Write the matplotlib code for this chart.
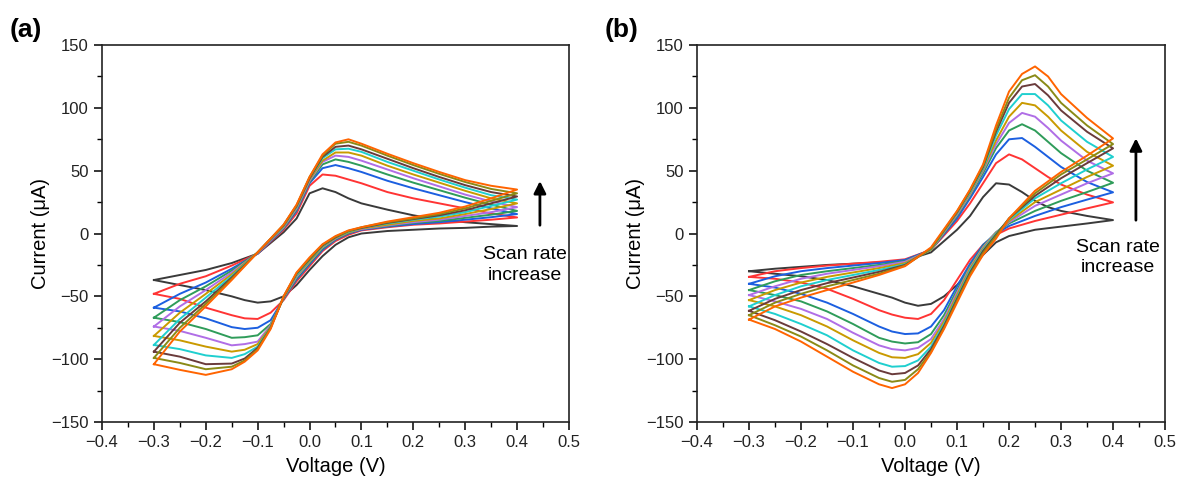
import matplotlib.pyplot as plt
from matplotlib.ticker import MultipleLocator

plt.rcParams['font.family'] = ['Liberation Sans', 'DejaVu Sans']

# line colours, slowest scan rate first
colors = ['#3a3a3a', '#ff3434', '#1c5fe0', '#2f9c5a', '#b06ee6',
          '#c99a00', '#1fcfcf', '#6a3b3b', '#8a8a16', '#ff6400']

# ---- panel (a) ----
va_fwd = [-0.3, -0.25, -0.2, -0.15, -0.1, -0.05, -0.025, 0.0, 0.025, 0.05,
          0.075, 0.1, 0.15, 0.2, 0.25, 0.3, 0.35, 0.4]
ia_fwd = [
    [-37, -33, -29, -23.5, -16, 1, 12, 32, 36, 33, 28, 24, 19, 14.5, 11, 9, 7.5, 6],
    [-48, -40, -34, -25.5, -16, 3, 16, 38, 47, 46, 43, 40, 33, 28, 24, 20, 16, 12.8],
    [-59, -48, -39, -28, -16, 4, 18, 40, 52, 54.5, 52, 49, 42, 36, 30.5, 25, 20, 15.5],
    [-67, -53, -42, -29.5, -15.5, 4.5, 19, 41, 55, 59, 57, 54, 47, 40.5, 34.5, 28.5, 23, 18],
    [-74, -58, -45, -31, -15.5, 5, 20, 42, 57, 62, 61, 58, 51, 44, 37.5, 31, 25.5, 21],
    [-81.5, -63, -48, -32.5, -15, 5.5, 21, 43, 58, 64.5, 64.5, 62, 54, 47, 40.5, 34, 28, 24],
    [-88.7, -68, -51, -34, -15, 6, 21.5, 44, 60, 67, 67.5, 65, 57, 50, 43, 36.5, 30.5, 27],
    [-94, -71, -54, -35, -15, 6.5, 22, 44, 61, 69, 70, 67, 59.5, 52, 45, 38.5, 33, 29.5],
    [-99, -75, -56, -36, -15, 7, 22.5, 45, 62, 71.5, 73, 70, 62, 54.5, 47.5, 41, 35.5, 32],
    [-104, -78, -58, -37, -15, 7, 23, 45, 63, 72.5, 75, 71.5, 63.5, 56, 49, 42.5, 38, 35],
]
va_rev = [0.35, 0.3, 0.25, 0.2, 0.15, 0.1, 0.075, 0.05, 0.025, 0.0, -0.025,
          -0.05, -0.075, -0.1, -0.125, -0.15, -0.2, -0.25, -0.3]
ia_rev = [
    [5.5, 4.5, 4, 3, 2, 0, -3, -9, -18, -29, -41, -50, -54, -55, -53, -50, -45, -41, -37],
    [11, 9.5, 8, 7, 5, 2.5, -1, -6, -14, -26, -38, -53, -63, -68, -67.5, -65, -59, -52, -48],
    [13, 11, 9, 7.5, 5.5, 3, 0, -5, -13, -24.5, -36.5, -52, -69, -75, -76, -74.5, -67.5, -62, -59],
    [15, 12.5, 10, 8.5, 6, 3.5, 0.5, -4.5, -12, -23.5, -35.5, -51.5, -72, -81, -82.5, -83, -76, -70.5, -67],
    [17, 14, 11, 9, 6.5, 3.5, 1, -4, -11, -22.5, -34.5, -51, -73, -86, -88, -89, -83, -77.5, -74],
    [19.5, 15.5, 12, 10, 7, 4, 1, -3.5, -10.5, -22, -33.5, -51, -74, -88, -92.5, -94, -90, -85, -81.5],
    [22, 17, 13.5, 11, 8, 4.5, 1.5, -3, -10, -21, -33, -50.5, -74.5, -90, -96, -99, -97, -92, -88.7],
    [24, 18.5, 14.5, 11.5, 8.5, 4.5, 2, -3, -9.5, -20.5, -32, -50.5, -75, -91, -99.5, -103.5, -104, -98, -94],
    [26, 20, 15.5, 12, 9, 5, 2, -2.5, -9, -20, -31.5, -50, -75, -92, -101, -106, -108, -103, -99],
    [28, 21.5, 16.5, 13, 9.5, 5, 2.5, -2, -8.5, -19, -31, -50, -76, -93, -102, -108, -112.5, -108.5, -104],
]

# ---- panel (b) ----
vb_fwd = [-0.3, -0.25, -0.2, -0.15, -0.1, -0.05, 0.0, 0.05, 0.1, 0.125, 0.15,
          0.175, 0.2, 0.225, 0.25, 0.275, 0.3, 0.35, 0.4]
ib_fwd = [
    [-30, -28, -26.5, -25, -24, -23, -21.5, -15, 3, 14, 29, 40, 39, 33, 26, 21, 18, 14, 10.7],
    [-34.5, -30, -27.5, -25.5, -24, -22.5, -20.5, -13, 10, 24, 40, 56, 63, 59, 52, 45, 39, 31, 24.8],
    [-40, -34, -30, -27.5, -25.5, -23.5, -21, -13, 12, 28, 45, 63, 75, 76, 69, 61, 53, 41, 32.8],
    [-45, -38, -33, -30, -27.5, -25, -22, -13, 14, 30, 48, 68, 82, 87, 82, 73, 64, 50, 40.4],
    [-49, -42, -36, -32, -29, -26, -22.5, -13, 15, 31, 50, 71, 88, 96, 93, 84, 74, 58, 47.9],
    [-53, -45, -39, -34.5, -31, -27.5, -23.5, -13, 16, 32, 51, 74, 93, 104, 102, 93, 82, 65, 54],
    [-58, -49, -42, -37, -33, -29, -24.5, -12.5, 16.5, 33, 52, 78, 99, 111, 111, 102, 90, 73, 61],
    [-61.5, -52, -45, -39.5, -35, -30.5, -25, -12, 17, 34, 53, 81, 104, 117, 119, 110, 98, 81, 67.8],
    [-65, -55, -48, -42, -37, -32, -25.5, -12, 17.5, 34.5, 54, 83, 108, 122, 126, 117, 104, 86, 71.2],
    [-68.5, -58, -51, -45, -39, -33, -26, -11, 18, 35, 55, 86, 113, 127, 133, 125, 111, 92, 75.7],
]
vb_rev = [0.35, 0.3, 0.25, 0.2, 0.175, 0.15, 0.125, 0.1, 0.075, 0.05, 0.025,
          0.0, -0.025, -0.05, -0.1, -0.15, -0.2, -0.25, -0.3]
ib_rev = [
    [8, 5.5, 3, -2, -7, -17, -29, -41, -50, -56, -57.5, -55, -51, -48, -42, -37, -34, -32, -30],
    [20, 15, 10, 4, -1, -9, -21, -37, -53, -64, -68, -67, -64.5, -61, -52, -44, -39, -36, -34.5],
    [27, 21, 14, 6, 0, -9, -24, -42, -61, -74, -79.5, -80, -78, -74, -64, -55, -48, -43, -40],
    [33, 26, 18, 8, 1, -10, -26, -45, -65, -80, -86.5, -87.5, -86, -83, -72, -62, -54, -49, -45],
    [40, 31, 22, 9, 1, -11, -27, -47, -68, -84, -91, -93, -92, -89, -79, -68, -60, -54, -49],
    [45, 35, 25, 10, 0.5, -12, -28, -49, -70, -87, -96, -99, -98.5, -95, -85, -74, -65, -58, -53],
    [51, 40, 28, 11, 0, -13, -29.5, -51, -72, -90, -101, -105.5, -106, -103, -93, -81, -72, -64, -58],
    [56, 44, 30, 12, -1, -14, -31, -52, -73.5, -92, -105, -111, -112, -109, -99, -88, -78, -69, -61.5],
    [59, 47, 32, 12, -2, -15.5, -32.5, -53.5, -75, -94, -108, -116.5, -118, -115, -105, -93, -82, -73, -65],
    [62, 49, 34, 12, -4, -17, -34, -55, -76, -95, -111, -120, -123, -120, -110, -98, -86, -76, -68.5],
]

fig = plt.figure(figsize=(11.78, 4.82), dpi=100)
ax_a = fig.add_axes([0.0866, 0.1245, 0.3964, 0.782])
ax_b = fig.add_axes([0.5917, 0.1245, 0.3973, 0.782])

panels = [
    (ax_a, va_fwd, ia_fwd, va_rev, ia_rev, '(a)', 0.008, (0.444, 4.4, 44), (0.415, -25)),
    (ax_b, vb_fwd, ib_fwd, vb_rev, ib_rev, '(b)', 0.513, (0.444, 8.4, 78), (0.41, -19)),
]

for ax, vf, ifw, vr, irv, tag, tx, arr, txt in panels:
    for k in range(len(colors)):
        x = vf + vr
        y = ifw[k] + irv[k]
        ax.plot(x, y, color=colors[k], lw=1.4)

    ax.set_xlim(-0.4, 0.5)
    ax.set_ylim(-150, 150)
    ax.xaxis.set_major_locator(MultipleLocator(0.1))
    ax.xaxis.set_minor_locator(MultipleLocator(0.05))
    ax.yaxis.set_major_locator(MultipleLocator(50))
    ax.yaxis.set_minor_locator(MultipleLocator(25))
    ax.tick_params(which='major', direction='out', length=6, width=1.1,
                   labelsize=12, labelcolor='#222222')
    ax.tick_params(which='minor', direction='out', length=3.5, width=1.0)
    ax.xaxis.set_major_formatter(plt.FuncFormatter(
        lambda v, p: ('%.1f' % v).replace('-', '\u2212')))
    for s in ax.spines.values():
        s.set_linewidth(1.2)
        s.set_color('#222222')
    ax.set_xlabel('Voltage (V)', fontsize=14.5, labelpad=5)
    ax.set_ylabel('Current (\u03bcA)', fontsize=14.5, labelpad=1)

    ax.annotate('', xy=(arr[0], arr[2]), xytext=(arr[0], arr[1]),
                arrowprops=dict(arrowstyle='-|>', color='black', lw=2,
                                mutation_scale=18))
    ax.text(txt[0], txt[1], 'Scan rate\nincrease', ha='center', va='center',
            fontsize=14, linespacing=1.25)

    fig.text(tx, 0.937, tag, fontsize=19, fontweight='bold', va='center')

fig.savefig('out.png', dpi=100)
